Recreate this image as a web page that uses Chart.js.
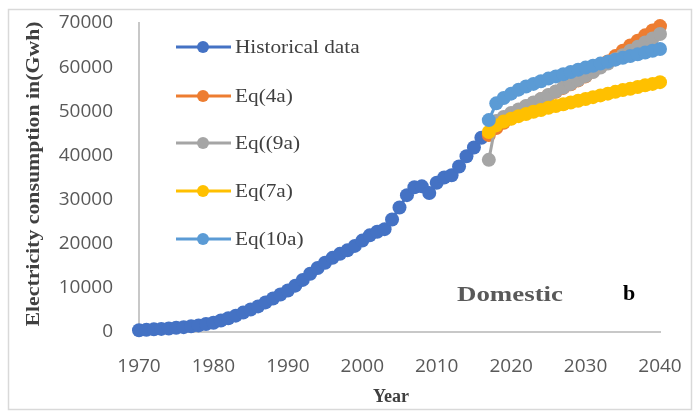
<!DOCTYPE html>
<html>
<head>
<meta charset="utf-8">
<script src="https://cdn.jsdelivr.net/npm/chart.js@4/dist/chart.umd.min.js"></script>
<style>
  html, body { margin: 0; padding: 0; background: #fff; }
  #wrap { width: 700px; height: 416px; position: relative; }
</style>
</head>
<body>
<div id="wrap"><canvas id="c" width="700" height="416"></canvas></div>
<script>
// Domestic electricity consumption (GWh): history and four model forecasts
const histYears = [1970,1971,1972,1973,1974,1975,1976,1977,1978,1979,
  1980,1981,1982,1983,1984,1985,1986,1987,1988,1989,
  1990,1991,1992,1993,1994,1995,1996,1997,1998,1999,
  2000,2001,2002,2003,2004,2005,2006,2007,2008,2009,
  2010,2011,2012,2013,2014,2015,2016];
const histValues = [400,500,600,700,800,950,1100,1300,1500,1800,
  2100,2600,3100,3700,4400,5100,5800,6700,7600,8500,
  9400,10500,11800,13200,14500,15700,16800,17700,18500,19500,
  20700,21900,22700,23300,25500,28200,31000,32800,33000,31500,
  33800,35000,35500,37500,39800,41800,44000];

const forecastYears = [2017,2018,2019,2020,2021,2022,2023,2024,2025,2026,2027,2028,
  2029,2030,2031,2032,2033,2034,2035,2036,2037,2038,2039,2040];
const eq4a = [44600,46200,47400,48400,49800,51100,51900,52700,53600,54400,55300,56100,
  57000,57900,59000,60100,61300,62500,63700,64900,66000,67200,68300,69300];
const eq9a = [39000,47800,48700,49600,50400,51200,52000,52800,53700,54500,55400,56200,
  57100,58000,58900,59900,60800,61800,62700,63700,64600,65600,66500,67500];
const eq7a = [45300,46800,47700,48300,48900,49400,49900,50300,50800,51200,51600,52000,
  52400,52800,53200,53600,54000,54400,54800,55100,55500,55900,56200,56600];
const eq10a = [48000,51800,53000,54000,54900,55600,56200,56800,57400,57900,58400,58900,
  59400,59900,60300,60800,61200,61700,62100,62500,62900,63300,63700,64100];

const seriesNames = ['Historical data', 'Eq(4a)', 'Eq((9a)', 'Eq(7a)', 'Eq(10a)'];
const seriesColors = ['#4472C4', '#ED7D31', '#A5A5A5', '#FFC000', '#5B9BD5'];

const xTicks = [1970, 1980, 1990, 2000, 2010, 2020, 2030, 2040];
const yTicks = [0, 10000, 20000, 30000, 40000, 50000, 60000, 70000];

function pairs(xs, ys) { return xs.map((x, i) => ({ x: x, y: ys[i] })); }

const seriesData = [
  pairs(histYears, histValues),
  pairs(forecastYears, eq4a),
  pairs(forecastYears, eq9a),
  pairs(forecastYears, eq7a),
  pairs(forecastYears, eq10a)
];

// later series sit on top of earlier ones
const datasets = seriesData.map((d, i) => ({
  label: seriesNames[i],
  data: d,
  borderColor: seriesColors[i],
  backgroundColor: seriesColors[i],
  pointBackgroundColor: seriesColors[i],
  pointBorderColor: seriesColors[i],
  pointRadius: 7,
  pointBorderWidth: 0,
  pointHoverRadius: 7,
  borderWidth: 3,
  tension: 0,
  clip: false,
  order: seriesData.length - 1 - i
}));

// draw a string stretched to a given width
function drawStretched(ctx, text, x, y, font, color, width, angle) {
  ctx.save();
  ctx.font = font;
  ctx.fillStyle = color;
  ctx.textAlign = 'center';
  ctx.textBaseline = 'middle';
  ctx.translate(x, y);
  if (angle) ctx.rotate(angle);
  const w = ctx.measureText(text).width;
  const sx = width ? width / w : 1;
  ctx.scale(sx, 1);
  ctx.fillText(text, 0, 0);
  ctx.restore();
}

const decor = {
  id: 'decor',
  beforeDraw(chart) {
    const ctx = chart.ctx;
    ctx.save();
    ctx.fillStyle = '#ffffff';
    ctx.fillRect(0, 0, chart.width, chart.height);
    ctx.strokeStyle = '#d9d9d9';
    ctx.lineWidth = 1.5;
    ctx.strokeRect(8.5, 9.5, 683, 400);
    ctx.restore();
  },
  afterDraw(chart) {
    const ctx = chart.ctx;
    // legend
    const rowY = [47, 96, 143, 191, 239];
    seriesNames.forEach((name, i) => {
      const y = rowY[i];
      ctx.save();
      ctx.strokeStyle = seriesColors[i];
      ctx.lineWidth = 3;
      ctx.beginPath();
      ctx.moveTo(176, y);
      ctx.lineTo(231, y);
      ctx.stroke();
      ctx.fillStyle = seriesColors[i];
      ctx.beginPath();
      ctx.arc(203, y, 6, 0, Math.PI * 2);
      ctx.fill();
      ctx.font = '19px "Liberation Serif"';
      ctx.fillStyle = '#404040';
      ctx.textAlign = 'left';
      ctx.textBaseline = 'middle';
      ctx.translate(235, y + 1);
      ctx.scale(1.12, 1);
      ctx.fillText(name, 0, 0);
      ctx.restore();
    });
    // axis titles
    drawStretched(ctx, 'Electricity consumption in(Gwh)', 34, 174,
      'bold 18px "Liberation Serif"', '#404040', 305, -Math.PI / 2);
    drawStretched(ctx, 'Year', 391, 397, 'bold 18px "Liberation Serif"', '#404040', 36, 0);
    // panel annotation
    drawStretched(ctx, 'Domestic', 510, 295, 'bold 22px "Liberation Serif"', '#595959', 106, 0);
    drawStretched(ctx, 'b', 629, 294, 'bold 22px "Liberation Serif"', '#000000', 0, 0);
  }
};

new Chart(document.getElementById('c'), {
  type: 'line',
  data: { datasets: datasets },
  options: {
    responsive: false,
    animation: false,
    events: [],
    layout: { padding: { left: 0, right: 40, top: 23, bottom: 0 } },
    plugins: { legend: { display: false }, tooltip: { enabled: false } },
    scales: {
      x: {
        type: 'linear',
        min: xTicks[0],
        max: xTicks[xTicks.length - 1],
        afterBuildTicks(scale) { scale.ticks = xTicks.map(v => ({ value: v })); },
        afterFit(scale) {
          scale.height = 84;
          scale.paddingLeft = 0;
          scale.paddingRight = 0;
        },
        grid: { display: false, drawTicks: false },
        border: { display: true, color: '#c8c8c8', width: 2 },
        ticks: {
          padding: 23,
          color: '#595959',
          font: { family: '"Open Sans"', size: 19 },
          maxRotation: 0,
          callback: v => String(v)
        }
      },
      y: {
        type: 'linear',
        min: yTicks[0],
        max: yTicks[yTicks.length - 1],
        afterBuildTicks(scale) { scale.ticks = yTicks.map(v => ({ value: v })); },
        afterFit(scale) {
          scale.width = 139;
          scale.paddingTop = 0;
          scale.paddingBottom = 0;
        },
        grid: { display: false, drawTicks: false },
        border: { display: true, color: '#c8c8c8', width: 2 },
        ticks: {
          padding: 26,
          color: '#595959',
          font: { family: '"Open Sans"', size: 19 },
          callback: v => String(v)
        }
      }
    }
  },
  plugins: [decor]
});
</script>
</body>
</html>
